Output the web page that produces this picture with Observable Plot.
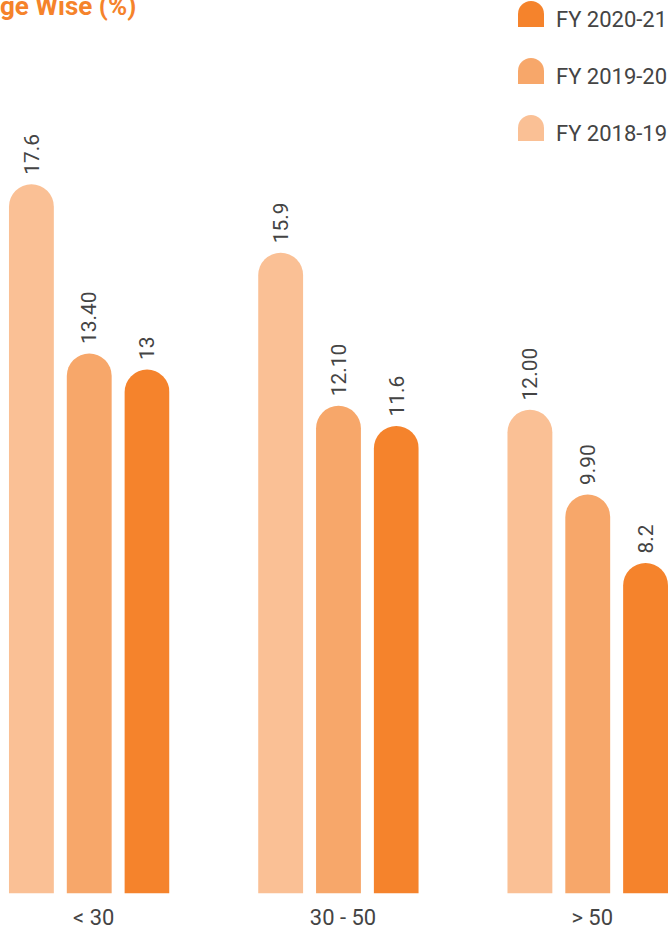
<!DOCTYPE html>
<html><head><meta charset="utf-8">
<script src="https://cdn.jsdelivr.net/npm/d3@7"></script>
<script src="https://cdn.jsdelivr.net/npm/@observablehq/plot@0.6"></script>
<style>
body{margin:0;background:#fff;font-family:Roboto,"Noto Sans",sans-serif;}
#wrap{position:relative;width:668px;height:936px;overflow:hidden;}
#title{position:absolute;left:0;top:-7px;font-weight:700;font-size:26px;line-height:26px;color:#F5832B;white-space:nowrap;}
.leg{position:absolute;left:518px;display:flex;align-items:baseline;font-size:22px;line-height:22px;color:#444;white-space:nowrap;}
.sw{width:26px;height:26px;border-radius:13px 13px 0 0;margin-right:12px;}
#chart{position:absolute;left:0;top:0;}
</style></head>
<body>
<div id="wrap">
<div id="chart"></div>
<div id="title">ge Wise (%)</div>
<div id="legend"></div>
</div>
<script>
const groups = ["< 30", "30 - 50", "> 50"];
const series = ["FY 2018-19", "FY 2019-20", "FY 2020-21"];
const colors = ["#FAC095", "#F7A76A", "#F5832C"];
const fy1819 = [17.6, 15.9, 12.0];
const fy1920 = [13.4, 12.1, 9.9];
const fy2021 = [13, 11.6, 8.2];
const lab1819 = ["17.6", "15.9", "12.00"];
const lab1920 = ["13.40", "12.10", "9.90"];
const lab2021 = ["13", "11.6", "8.2"];
const legendOrder = ["FY 2020-21", "FY 2019-20", "FY 2018-19"];

const vals = [fy1819, fy1920, fy2021];
const labs = [lab1819, lab1920, lab2021];
const data = [];
groups.forEach((g, gi) => series.forEach((s, si) => data.push({group: g, series: s, value: vals[si][gi], label: labs[si][gi]})));

const chart = Plot.plot({
  width: 670, height: 936,
  marginLeft: 8, marginRight: 0, marginTop: 7, marginBottom: 40,
  style: {fontFamily: "Roboto, sans-serif", fontSize: "22px", color: "#444", background: "transparent"},
  fx: {domain: groups, paddingInner: 0.352, paddingOuter: 0, label: null, axis: null},
  x: {domain: series, paddingInner: 0.231, paddingOuter: 0, axis: null},
  y: {domain: [0, 22], axis: null},
  color: {domain: series, range: colors},
  marks: [
    Plot.barY(data, {fx: "group", x: "series", y: "value", fill: "series", rx: 22.5, insetTop: 0, insetLeft: 0, insetRight: 0, insetBottom: -30, clip: true}),
    Plot.text(data, {fx: "group", x: "series", y: "value", text: "label", rotate: -90, textAnchor: "start", dy: -10, fontSize: 21, fill: "#444"}),
    Plot.axisFx({anchor: "bottom", tickSize: 0, tickPadding: 16, dx: 4.5, fontSize: 22, fill: "#444", label: null})
  ]
});
document.getElementById("chart").appendChild(chart);

const leg = document.getElementById("legend");
legendOrder.forEach((s, i) => {
  const row = document.createElement("div");
  row.className = "leg";
  row.style.top = (0.5 + i * 57.3) + "px";
  const sw = document.createElement("div");
  sw.className = "sw";
  sw.style.background = colors[series.indexOf(s)];
  const t = document.createElement("span");
  t.textContent = s;
  row.appendChild(sw); row.appendChild(t);
  leg.appendChild(row);
});
</script>
</body></html>
